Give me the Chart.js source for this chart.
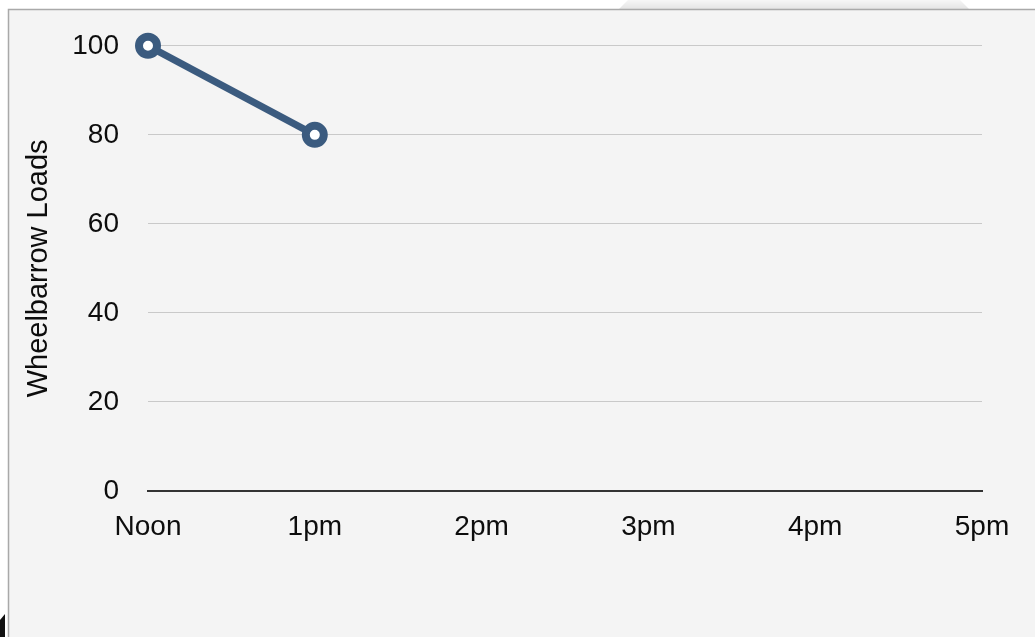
<!DOCTYPE html>
<html>
<head>
<meta charset="utf-8">
<script src="https://cdn.jsdelivr.net/npm/chart.js@4/dist/chart.umd.min.js"></script>
<style>
  html, body { margin: 0; padding: 0; background: #ffffff; }
  #wrap { width: 1035px; height: 637px; }
</style>
</head>
<body>
<div id="wrap"><canvas id="c" width="1035" height="637"></canvas></div>
<script>
// Hours of the afternoon and loads moved so far
const hours = ['Noon', '1pm', '2pm', '3pm', '4pm', '5pm'];
const loads = [100, 80, null, null, null, null];
const yTicks = [0, 20, 40, 60, 80, 100];

const FONT = "'Liberation Sans', Arial, Helvetica, sans-serif";

// Slide-like backdrop: light panel with a thin frame
const backdrop = {
  id: 'backdrop',
  beforeDraw(chart) {
    const ctx = chart.ctx;
    const w = chart.width, h = chart.height;
    ctx.save();
    ctx.fillStyle = '#ffffff';
    ctx.fillRect(0, 0, w, h);
    // soft tab above the frame
    const g = ctx.createLinearGradient(0, 0, 0, 10);
    g.addColorStop(0, '#f6f6f6');
    g.addColorStop(1, '#e2e2e2');
    ctx.fillStyle = g;
    ctx.beginPath();
    ctx.moveTo(618, 10);
    ctx.lineTo(628, 0);
    ctx.lineTo(960, 0);
    ctx.lineTo(970, 10);
    ctx.closePath();
    ctx.fill();
    // panel
    ctx.fillStyle = '#f4f4f4';
    ctx.fillRect(8, 9, w - 8, h - 9);
    ctx.strokeStyle = '#a9a9a9';
    ctx.lineWidth = 1.5;
    ctx.beginPath();
    ctx.moveTo(8.5, h);
    ctx.lineTo(8.5, 9.5);
    ctx.lineTo(w, 9.5);
    ctx.stroke();
    // dark corner at the lower left
    ctx.fillStyle = '#111111';
    ctx.beginPath();
    ctx.moveTo(0, 620);
    ctx.lineTo(5, 614);
    ctx.lineTo(5, h);
    ctx.lineTo(0, h);
    ctx.closePath();
    ctx.fill();
    ctx.restore();
  }
};

new Chart(document.getElementById('c'), {
  type: 'line',
  data: {
    labels: hours,
    datasets: [{
      data: loads,
      borderColor: '#3b5b7f',
      borderWidth: 7,
      pointRadius: 9,
      pointBorderWidth: 8,
      pointBackgroundColor: '#ffffff',
      pointBorderColor: '#3b5b7f',
      pointHoverRadius: 9,
      spanGaps: false,
      tension: 0,
      clip: false
    }]
  },
  options: {
    responsive: false,
    animation: false,
    layout: { padding: { left: 0, right: 53, top: 45, bottom: 0 } },
    plugins: { legend: { display: false }, tooltip: { enabled: false } },
    scales: {
      x: {
        offset: false,
        grid: { display: false, drawTicks: false },
        border: { display: true, color: '#333333', width: 2 },
        ticks: {
          color: '#0d0d0d',
          font: { family: FONT, size: 28 },
          padding: 19,
          maxRotation: 0,
          autoSkip: false
        },
        afterFit(scale) { scale.height = 146; }
      },
      y: {
        min: 0,
        max: 100,
        afterBuildTicks(scale) { scale.ticks = yTicks.map(v => ({ value: v })); },
        grid: {
          drawTicks: false,
          color: (c) => c.tick && c.tick.value === 0 ? 'rgba(0,0,0,0)' : '#c9c9c9',
          lineWidth: 1
        },
        border: { display: false },
        ticks: {
          color: '#0d0d0d',
          font: { family: FONT, size: 28 },
          padding: 29
        },
        title: {
          display: true,
          text: 'Wheelbarrow Loads',
          color: '#0d0d0d',
          font: { family: FONT, size: 29 },
          padding: { top: 22, bottom: 0 }
        },
        afterFit(scale) { scale.width = 148; }
      }
    }
  },
  plugins: [backdrop]
});
</script>
</body>
</html>
